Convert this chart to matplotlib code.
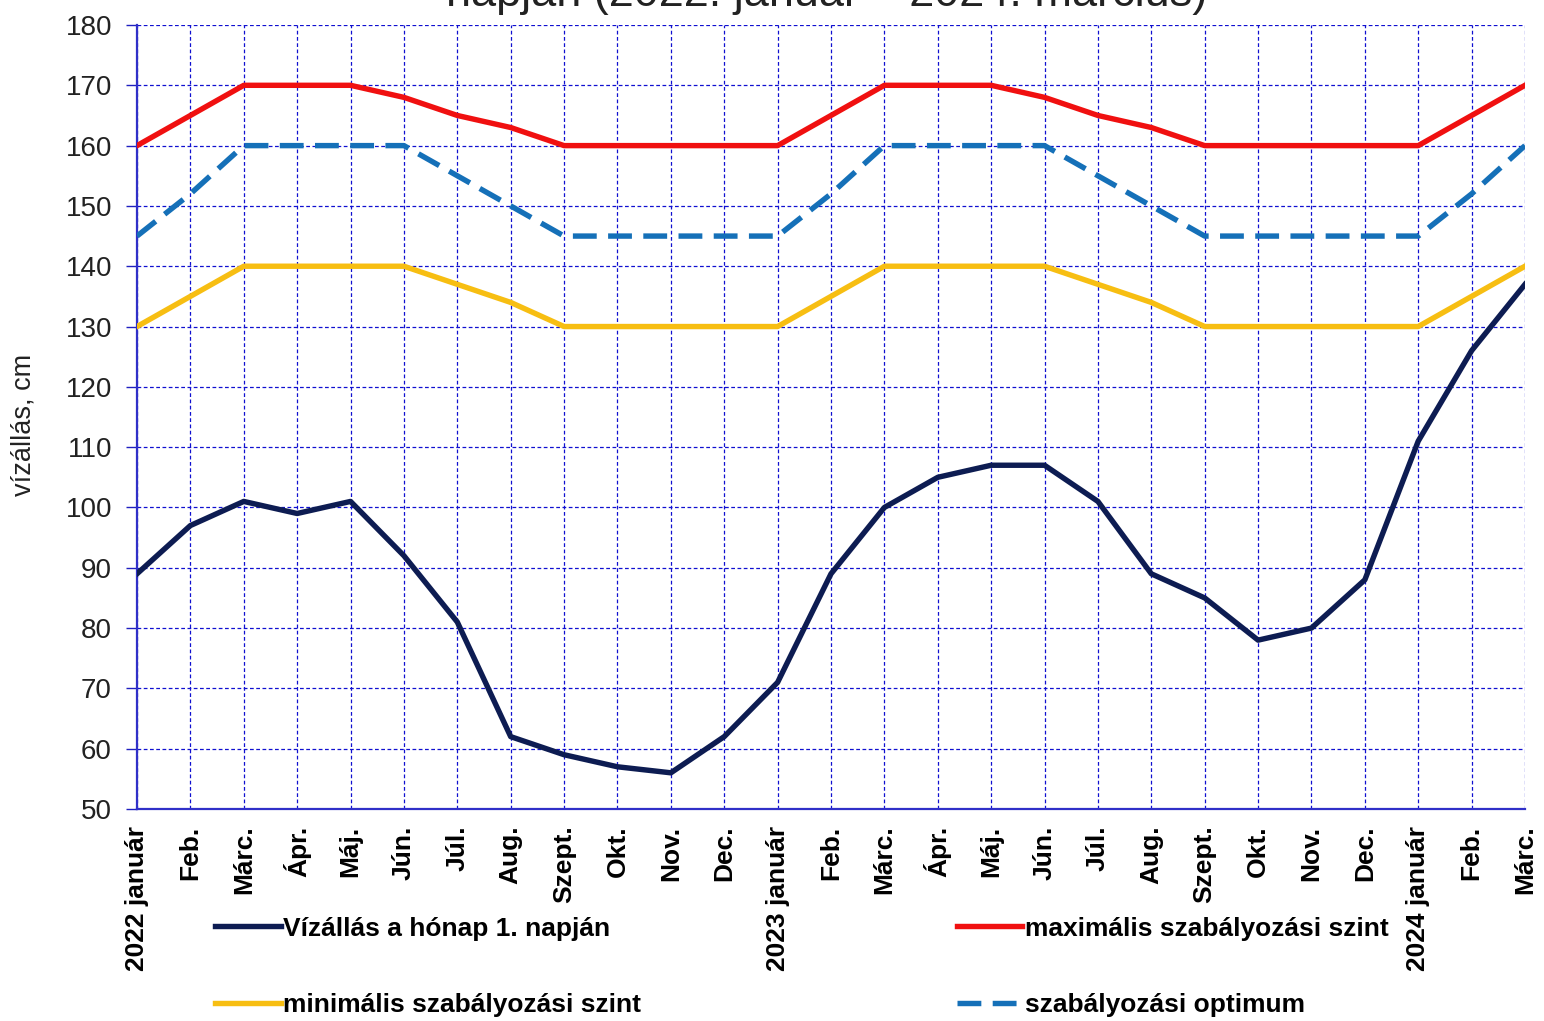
import matplotlib
matplotlib.use("Agg")
import matplotlib.pyplot as plt

plt.rcParams['font.family'] = ['Liberation Sans', 'DejaVu Sans']

months = ["2022 január", "Feb.", "Márc.", "Ápr.", "Máj.", "Jún.", "Júl.", "Aug.", "Szept.",
          "Okt.", "Nov.", "Dec.", "2023 január", "Feb.", "Márc.", "Ápr.", "Máj.", "Jún.",
          "Júl.", "Aug.", "Szept.", "Okt.", "Nov.", "Dec.", "2024 január", "Feb.", "Márc."]

water_level = [89, 97, 101, 99, 101, 92, 81, 62, 59, 57, 56, 62, 71, 89, 100, 105, 107, 107,
               101, 89, 85, 78, 80, 88, 111, 126, 137]
max_level = [160, 165, 170, 170, 170, 168, 165, 163, 160, 160, 160, 160, 160, 165, 170, 170,
             170, 168, 165, 163, 160, 160, 160, 160, 160, 165, 170]
min_level = [130, 135, 140, 140, 140, 140, 137, 134, 130, 130, 130, 130, 130, 135, 140, 140,
             140, 140, 137, 134, 130, 130, 130, 130, 130, 135, 140]
optimum = [145, 152, 160, 160, 160, 160, 155, 150, 145, 145, 145, 145, 145, 152, 160, 160,
           160, 160, 155, 150, 145, 145, 145, 145, 145, 152, 160]

yticks = list(range(50, 181, 10))

W, H = 1544, 1021
fig = plt.figure(figsize=(W / 100, H / 100), dpi=100)
ax = fig.add_axes([137 / W, 1 - 809 / H, (1525 - 137) / W, (809 - 25) / H])

x = list(range(len(months)))
l_water, = ax.plot(x, water_level, color="#0D1C52", lw=3.9, solid_joinstyle="round", zorder=5)
l_max, = ax.plot(x, max_level, color="#F01010", lw=3.9, zorder=4)
l_min, = ax.plot(x, min_level, color="#F7BE12", lw=3.9, zorder=4)
l_opt, = ax.plot(x, optimum, color="#1570B8", lw=3.9, dashes=(4.4, 2.1), zorder=4)

ax.set_xlim(0, len(months) - 1)
ax.set_ylim(50, 180)
ax.set_yticks(yticks)
ax.set_xticks(x)
ax.set_xticklabels(months, rotation=90, fontsize=19, fontweight="bold", va="top", ha="center")
ax.tick_params(axis="x", length=0, pad=12)
ax.tick_params(axis="y", length=8, width=1, color="#2020C0", labelsize=20, pad=10)
for lab in ax.get_yticklabels():
    lab.set_color("#222222")

ax.grid(True, color="#1010D0", lw=0.9, ls=(0, (3, 2)))
ax.set_axisbelow(True)
for s in ["top", "right"]:
    ax.spines[s].set_visible(False)
for s in ["left", "bottom"]:
    ax.spines[s].set_color("#3030C8")
    ax.spines[s].set_linewidth(1.6)

fig.text(24 / W, 1 - 425 / H, "vízállás, cm", rotation=90, fontsize=19.5, color="#222222",
         ha="center", va="center")

fig.text(827 / W, 1 - 6 / H,
         "A Balaton vízállásának alakulása a hónap 1.\nnapján (2022. január – 2024. március)",
         fontsize=32.5, ha="center", va="baseline", color="#222222", linespacing=1.2)

handles = [l_water, l_min, l_max, l_opt]
labels = ["Vízállás a hónap 1. napján", "minimális szabályozási szint",
          "maximális szabályozási szint", "szabályozási optimum"]
leg = fig.legend(handles, labels, ncol=2, loc="upper left",
                 bbox_to_anchor=(204 / W, 1 - 906 / H), frameon=False,
                 prop={"size": 19, "weight": "bold"}, handlelength=2.5, handletextpad=0.1,
                 columnspacing=11.95, labelspacing=2.0, borderaxespad=0)

fig.savefig("out.png", dpi=100)
